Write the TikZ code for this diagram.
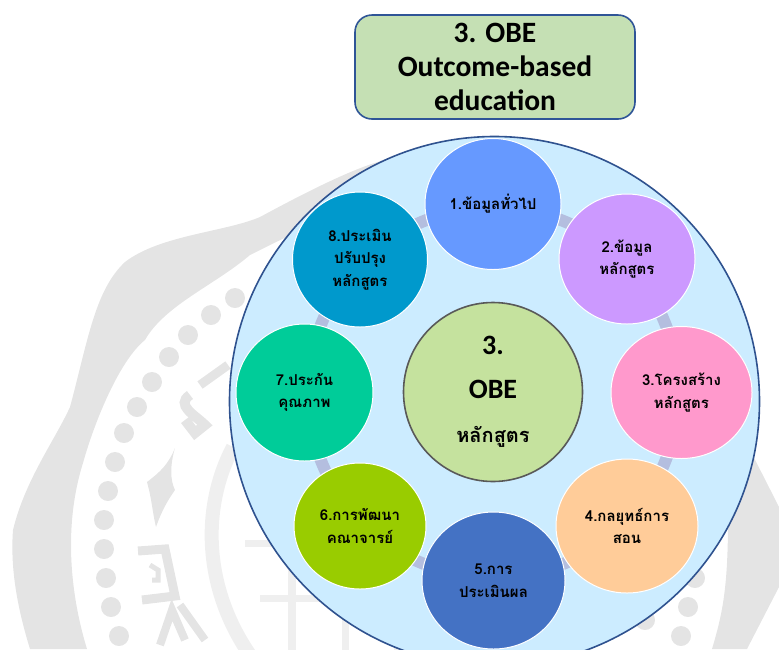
\documentclass[tikz,border=0pt]{standalone}
\usepackage{fontspec}
\usetikzlibrary{shapes.geometric}
\setmainfont{Carlito}
\newfontfamily\thaifont[Script=Thai]{Loma}
\definecolor{wm}{HTML}{E4E4E4}
\definecolor{wmlight}{HTML}{EFEFEF}
\definecolor{ringc}{HTML}{B4BEDF}
\definecolor{discfill}{HTML}{CCECFF}
\definecolor{discline}{HTML}{2F528F}
\pgfdeclarelayer{backdrop}
\pgfdeclarelayer{links}
\pgfsetlayers{backdrop,links,main}
\tikzset{
  petal/.style={ellipse,draw=white,line width=1pt,inner sep=0pt,font=\thaifont\bfseries\fontsize{15pt}{22.5pt}\selectfont,align=center,text=black},
  link/.style={draw=ringc,line width=12pt},
}
\begin{document}
\begin{tikzpicture}[x=1pt,y=-1pt]
\useasboundingbox (0,0) rectangle (779,649);
% main
\node[draw={rgb,255:red,47;green,85;blue,151},fill={rgb,255:red,197;green,224;blue,180},line width=1.6pt,rounded corners=17pt,minimum width=280pt,minimum height=104pt,inner sep=0pt,align=center,font=\bfseries\fontsize{29.5pt}{34pt}\selectfont] (title) at (495,67) {3. OBE\\Outcome-based\\education};
\node[petal,fill={rgb,255:red,102;green,153;blue,255},minimum width=136pt,minimum height=131pt] (a) at (493,204) {1.ข้อมูลทั่วไป};
\node[petal,fill={rgb,255:red,204;green,153;blue,255},minimum width=136pt,minimum height=130pt] (b) at (627,259) {2.ข้อมูล\\หลักสูตร};
\node[petal,fill={rgb,255:red,255;green,153;blue,204},minimum width=141pt,minimum height=132pt] (c) at (681.5,392.5) {3.โครงสร้าง\\หลักสูตร};
\node[petal,fill={rgb,255:red,255;green,204;blue,153},minimum width=142pt,minimum height=134pt] (d) at (627,526) {4.กลยุทธ์การ\\สอน};
\node[petal,fill={rgb,255:red,68;green,114;blue,196},minimum width=143pt,minimum height=137pt] (e) at (493.5,580.5) {5.การ\\ประเมินผล};
\node[petal,fill={rgb,255:red,153;green,204;blue,0},minimum width=132pt,minimum height=126pt] (f) at (360,526) {6.การพัฒนา\\คณาจารย์};
\node[petal,fill={rgb,255:red,0;green,204;blue,153},minimum width=137pt,minimum height=137pt] (g) at (304.5,392.5) {7.ประกัน\\คุณภาพ};
\node[petal,fill={rgb,255:red,0;green,153;blue,204},minimum width=135pt,minimum height=135pt] (h) at (360,259.5) {8.ประเมิน\\ปรับปรุง\\หลักสูตร};
\node[circle,draw={rgb,255:red,89;green,89;blue,89},fill={rgb,255:red,197;green,226;blue,158},line width=1.6pt,minimum size=179pt,inner sep=0pt,align=center,font=\bfseries\fontsize{28pt}{44pt}\selectfont] (mid) at (493,392) {3.\\OBE\\{\thaifont\fontsize{20pt}{44pt}\selectfont หลักสูตร}};
\begin{pgfonlayer}{links}
\draw[link] (a.center) to[bend left=15] (b.center);
\draw[link] (b.center) to[bend left=15] (c.center);
\draw[link] (c.center) to[bend left=15] (d.center);
\draw[link] (d.center) to[bend left=15] (e.center);
\draw[link] (e.center) to[bend left=15] (f.center);
\draw[link] (f.center) to[bend left=15] (g.center);
\draw[link] (g.center) to[bend left=15] (h.center);
\draw[link] (h.center) to[bend left=15] (a.center);
\end{pgfonlayer}
\begin{pgfonlayer}{backdrop}
% watermark: outer band, left
\fill[wm] (395,158) .. controls (365,162) and (310,190) .. (260,217)
  .. controls (225,232) and (160,235) .. (125,262)
  .. controls (95,290) and (88,340) .. (70,407)
  .. controls (55,440) and (25,480) .. (13,530)
  .. controls (10,570) and (18,610) .. (30,649)
  -- (87,649) .. controls (72,600) and (62,530) .. (83,463)
  .. controls (95,420) and (120,360) .. (145,340)
  .. controls (165,305) and (215,285) .. (250,255)
  .. controls (290,235) and (340,210) .. (400,190) -- cycle;
% watermark: outer band, right
\fill[wm] (745,440) -- (779,507) -- (779,587) -- (747,649) -- (712,649)
  .. controls (722,615) and (728,590) .. (728,520) -- cycle;
% watermark: dots
\foreach \p in {(235,298),(211,315),(188,335),(169,357),(152,382),(137,407),(124,433),(115,462),(108,491),(104,520),(104,549),(106,578),(111,607),(119,636),(695,578),(688,607),(681,636),(645,620)}
  \fill[wm] \p circle (10);
% watermark: flame
\fill[wm] (175,448) .. controls (168,465) and (160,472) .. (147,482)
  .. controls (152,500) and (152,510) .. (156,527)
  .. controls (162,510) and (168,500) .. (175,490)
  .. controls (170,480) and (170,465) .. (175,448) -- cycle;
% watermark: glyphs
\draw[wm,line width=9pt] (138,551) -- (165,549) -- (175,596) -- (142,600);
\draw[wm,line width=5pt] (150,565) -- (158,570) -- (158,580) -- (152,580);
\draw[wm,line width=8pt] (160,645) -- (172,610) -- (185,640);
\draw[wm,line width=8pt] (180,605) -- (205,640);
\draw[wm,line width=9pt] (228,365) -- (200,385);
\draw[wm,line width=10pt] (190,395) .. controls (175,405) and (195,415) .. (205,425) -- (195,433) -- (185,420);
% watermark: rope ring and lower strokes
\draw[wmlight,line width=14pt] (233,447) .. controls (200,510) and (205,590) .. (250,655);
\draw[wmlight,line width=7pt] (245,543) -- (290,543);
\draw[wmlight,line width=7pt] (260,598) -- (340,598);
\draw[wmlight,line width=8pt] (292,555) -- (292,655);
\draw[wmlight,line width=7pt] (345,598) -- (345,655);
\draw[wmlight,line width=7pt] (397,637) -- (397,655);
% disc
\node[circle,draw=discline,fill=discfill,line width=1.6pt,minimum size=530pt,inner sep=0pt] (big) at (494.5,401.5) {};
\end{pgfonlayer}
\end{tikzpicture}
\end{document}
